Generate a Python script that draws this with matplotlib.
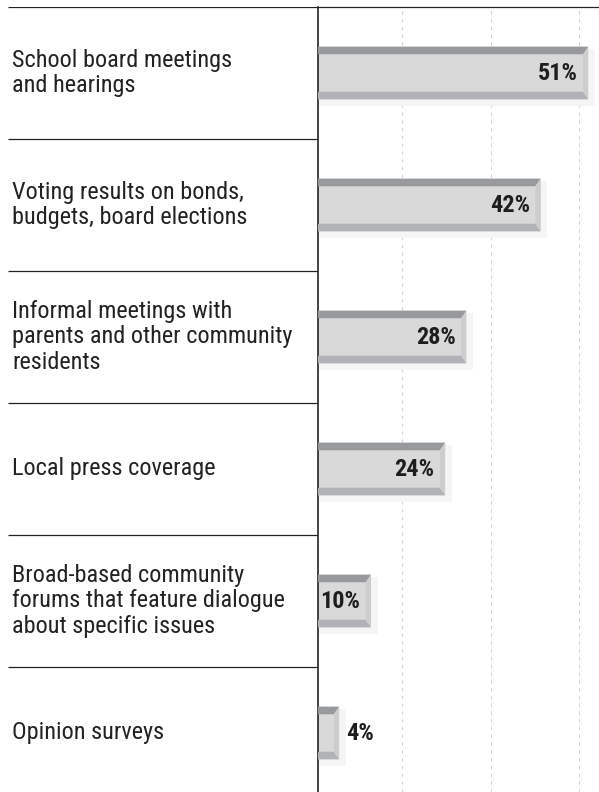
import matplotlib
matplotlib.use('Agg')
import matplotlib.pyplot as plt
from matplotlib.patches import Polygon
from matplotlib.transforms import blended_transform_factory

plt.rcParams['font.family'] = ['Roboto Condensed', 'DejaVu Sans']

categories = [
    'School board meetings\nand hearings',
    'Voting results on bonds,\nbudgets, board elections',
    'Informal meetings with\nparents and other community\nresidents',
    'Local press coverage',
    'Broad-based community\nforums that feature dialogue\nabout specific issues',
    'Opinion surveys',
]
shares = [51, 42, 28, 24, 10, 4]
value_labels = ['51%', '42%', '28%', '24%', '10%', '4%']

W, H = 599, 792
fig = plt.figure(figsize=(W / 100, H / 100), dpi=100)

# bar panel and label panel share the same row scale
ax = fig.add_axes([318 / W, 0, (W - 318) / W, 785 / H])
lab = fig.add_axes([8 / W, 0, 310 / W, 785 / H])

rows = range(len(categories))
ylim = (-0.5 + 785 / 132, -0.5)
for a in (ax, lab):
    a.set_ylim(*ylim)

ax.set_xlim(0, (W - 318) / 5.3)
ax.set_xticks([15.8, 32.6, 49.2])
ax.grid(axis='x', color='#d2d2d2', linestyle=(0, (3, 4)), linewidth=0.8)
ax.set_axisbelow(True)
ax.tick_params(length=0, labelbottom=False, labelleft=False)
ax.set_yticks([])
for s in ('right', 'bottom'):
    ax.spines[s].set_visible(False)
ax.spines['left'].set_linewidth(1.1)
ax.spines['left'].set_color('#111111')
ax.spines['top'].set_linewidth(0.9)
ax.spines['top'].set_color('#222222')

bar_h = 0.40
bev = 0.058
d = 1.0
for i, v, txt in zip(rows, shares, value_labels):
    top, bot = i - bar_h / 2, i + bar_h / 2
    # soft drop shadow
    ax.barh(i + 0.035, v + 1.3, height=bar_h + 0.03, left=0,
            color='#f5f5f5', zorder=1)
    ax.barh(i, v, height=bar_h, color='#d9d9d9', zorder=2)
    ax.add_patch(Polygon([(0, top), (v, top), (v - d, top + bev), (0, top + bev)],
                         closed=True, facecolor='#98999d', edgecolor='none', zorder=3))
    ax.add_patch(Polygon([(0, bot), (v, bot), (v - d, bot - bev), (0, bot - bev)],
                         closed=True, facecolor='#b1b2b6', edgecolor='none', zorder=3))
    ax.add_patch(Polygon([(v, top), (v, bot), (v - d, bot - bev), (v - d, top + bev)],
                         closed=True, facecolor='#cdcdce', edgecolor='none', zorder=3))
    if v >= 8:
        ax.text(v - 2.0, i, txt, ha='right', va='center', fontsize=17.5,
                fontweight='bold', color='#1e1e1e', zorder=4)
    else:
        ax.text(v + 1.3, i, txt, ha='left', va='center', fontsize=17.5,
                fontweight='bold', color='#1e1e1e', zorder=4)

# category labels with rules between them
lab.set_xlim(0, 1)
lab.axis('off')
lab.hlines([r - 0.5 for r in rows], 0, 1, color='#222222', linewidth=0.9)
tr = blended_transform_factory(lab.transAxes, lab.transData)
for i, name in zip(rows, categories):
    lab.text(4 / 310, i, name, transform=tr, ha='left', va='center',
             fontsize=17.5, color='#222222', linespacing=1.12)

fig.savefig('out.png', dpi=100)
